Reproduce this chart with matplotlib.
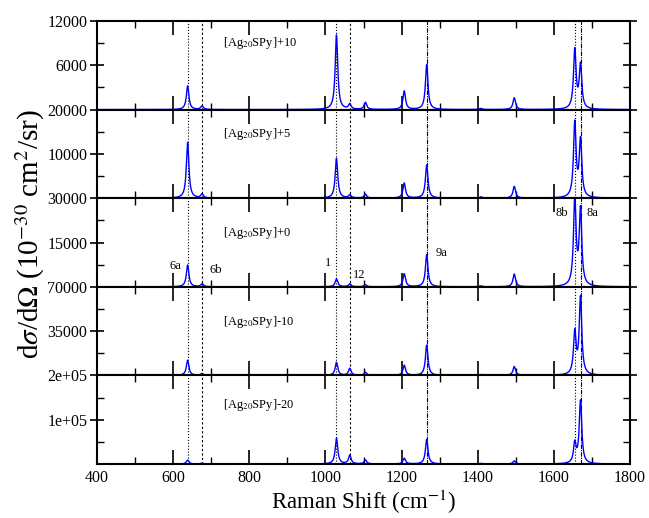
import numpy as np
import matplotlib
matplotlib.use("Agg")
import matplotlib.pyplot as plt
from matplotlib.ticker import MultipleLocator, FixedLocator, FixedFormatter

plt.rcParams['font.family'] = ['Liberation Serif', 'DejaVu Serif']
plt.rcParams['mathtext.fontset'] = 'stix'

# ---- data ----
peak_pos = [638, 676, 1029, 1064, 1105, 1207, 1266, 1408, 1496, 1655, 1670]
heights_p10 = [3200, 480, 10100, 700, 950, 2500, 6100, 150, 1600, 8000, 5900]
heights_p5 = [12600, 900, 9000, 700, 900, 3400, 7500, 300, 2650, 16800, 12800]
heights_p0 = [7400, 1000, 2700, 1000, 700, 4400, 10900, 300, 4300, 29500, 25500]
heights_m10 = [12000, 1500, 10300, 5500, 2500, 8000, 24000, 700, 7000, 33000, 61000]
heights_m20 = [9000, 2000, 58000, 20000, 9000, 13000, 56000, 1500, 7000, 45000, 142000]
half_width = 4.0

panel_names = ['[Ag$_{20}$SPy]+10', '[Ag$_{20}$SPy]+5', '[Ag$_{20}$SPy]+0',
               '[Ag$_{20}$SPy]-10', '[Ag$_{20}$SPy]-20']
panel_ymax = [12000, 20000, 30000, 70000, 200000]
panel_label_frac = [0.75, 0.73, 0.61, 0.60, 0.67]
ytick_labels = [['6000', '12000'], ['10000', '20000'], ['15000', '30000'],
                ['35000', '70000'], ['1e+05', '2e+05']]

mode_lines = [639, 677, 1029, 1064, 1267, 1656, 1672]
mode_styles = [':', (0, (2, 2)), ':', (0, (2, 2)), (0, (4, 1, 1, 1)), ':', (0, (4, 1, 1, 1))]

mode_labels = ['6a', '6b', '1', '12', '9a', '8b', '8a']
mode_label_x = [607, 712, 1008, 1088, 1305, 1622, 1702]
mode_label_y = [7100, 5700, 8100, 4100, 11400, 25000, 25000]

all_heights = [heights_p10, heights_p5, heights_p0, heights_m10, heights_m20]

x = np.linspace(400, 1800, 5601)


def spectrum(pos, hts, g):
    y = np.zeros_like(x)
    for p, h in zip(pos, hts):
        y += h / (1 + ((x - p) / g) ** 2)
    return y


fig = plt.figure(figsize=(6.49, 5.18), dpi=100)
gs = fig.add_gridspec(5, 1, left=0.1495, right=0.9707, top=0.9595, bottom=0.1042, hspace=0)
axes = [fig.add_subplot(gs[i]) for i in range(5)]

for i, ax in enumerate(axes):
    ymax = panel_ymax[i]
    ax.plot(x, spectrum(peak_pos, all_heights[i], half_width), color='#0000ff', lw=1.0)
    for xl, st in zip(mode_lines, mode_styles):
        ax.axvline(xl, color='black', lw=0.8, ls=st, zorder=1)
    ax.set_xlim(400, 1800)
    ax.set_ylim(0, ymax)
    ax.xaxis.set_major_locator(MultipleLocator(200))
    ax.xaxis.set_minor_locator(MultipleLocator(100))
    ax.yaxis.set_major_locator(FixedLocator([ymax / 2, ymax]))
    ax.yaxis.set_minor_locator(FixedLocator([ymax / 4, 3 * ymax / 4]))
    ax.yaxis.set_major_formatter(FixedFormatter(ytick_labels[i]))
    ax.tick_params(axis='x', which='both', direction='in', top=True, bottom=True)
    ax.tick_params(axis='x', which='major', length=10, width=1.2)
    ax.tick_params(axis='x', which='minor', length=5, width=1.0)
    ax.tick_params(axis='y', which='major', direction='inout', length=10, width=1.2,
                   right=True, labelsize=11.5, pad=2)
    ax.tick_params(axis='y', which='minor', direction='in', length=5, width=1.0, right=True)
    for s in ax.spines.values():
        s.set_linewidth(1.5)
    if i < 4:
        ax.tick_params(axis='x', labelbottom=False)
    else:
        ax.tick_params(axis='x', labelsize=11.5, pad=4)
    ax.text(731, panel_label_frac[i] * ymax, panel_names[i], fontsize=9,
            va='center', ha='left')

for lab, lx, ly in zip(mode_labels, mode_label_x, mode_label_y):
    axes[2].text(lx, ly, lab, fontsize=9, ha='center', va='center')

fig.text(0.5596, 0.031, 'Raman Shift (cm$^{-1}$)', fontsize=16.5, ha='center', va='center')
fig.text(0.047, 0.548, r'd$\sigma$/d$\Omega$ (10$^{-30}$ cm$^{2}$/sr)', rotation=90,
         fontsize=21, ha='center', va='center')

fig.savefig('out.png', dpi=100)
